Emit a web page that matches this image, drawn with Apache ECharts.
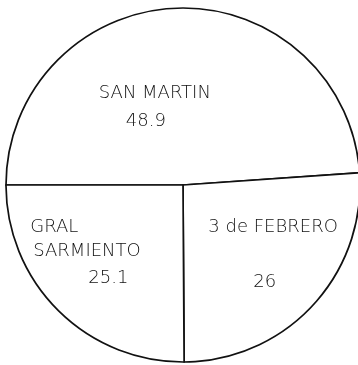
<!DOCTYPE html>
<html>
<head>
<meta charset="utf-8">
<script src="https://cdn.jsdelivr.net/npm/echarts@6/dist/echarts.min.js"></script>
<style>
  html, body { margin: 0; padding: 0; background: #fff; }
</style>
</head>
<body>
<div id="main" style="width:358px;height:365px;"></div>
<script type="text/javascript">
    // partidos y porcentajes
    var partidos = ['SAN MARTIN', '3 de FEBRERO', 'GRAL SARMIENTO'];
    var valores = [48.9, 26, 25.1];

    var myChart = echarts.init(document.getElementById('main'));

    // desplazamiento de cada etiqueta respecto a su posicion 'inside'
    var desplaz = [[-25, 17], [23, 8], [-33, 4]];

    var fuente = { fontSize: 18, color: '#111', fontFamily: 'DejaVu Sans', fontWeight: 200, align: 'left' };
    function estilo(extra) {
        return Object.assign({}, fuente, extra);
    }

    var option = {
        backgroundColor: '#fff',
        animation: false,
        series: [{
            type: 'pie',
            center: [183, 185],
            radius: 177,
            startAngle: 180,
            clockwise: true,
            silent: true,
            itemStyle: {
                color: '#fff',
                borderColor: '#111',
                borderWidth: 1.7
            },
            label: {
                show: true,
                position: 'inside',
                color: '#111',
                fontFamily: 'DejaVu Sans',
                fontSize: 18,
                fontWeight: 200,
                formatter: function (p) {
                    if (p.dataIndex === 0) return '{t|' + p.name + '}\n{sv|' + p.value + '}';
                    if (p.dataIndex === 1) return '{t|' + p.name + '}\n{b| }\n{fv|' + p.value + '}';
                    var partes = p.name.split(' ');
                    return '{t|' + partes[0] + '}\n{s|' + partes[1] + '}\n{gv|' + p.value + '}';
                },
                rich: {
                    t: estilo({ lineHeight: 22 }),
                    b: estilo({ lineHeight: 33 }),
                    s: estilo({ lineHeight: 26, padding: [0, 0, 0, 3] }),
                    sv: estilo({ lineHeight: 34, padding: [0, 0, 0, 27] }),
                    fv: estilo({ lineHeight: 22, padding: [0, 0, 0, 45] }),
                    gv: estilo({ lineHeight: 28, padding: [0, 0, 0, 58] })
                }
            },
            labelLine: { show: false },
            labelLayout: function (p) {
                return { dx: desplaz[p.dataIndex][0], dy: desplaz[p.dataIndex][1] };
            },
            data: partidos.map(function (n, i) {
                return { name: n, value: valores[i] };
            })
        }]
    };

    myChart.setOption(option);
</script>
</body>
</html>
